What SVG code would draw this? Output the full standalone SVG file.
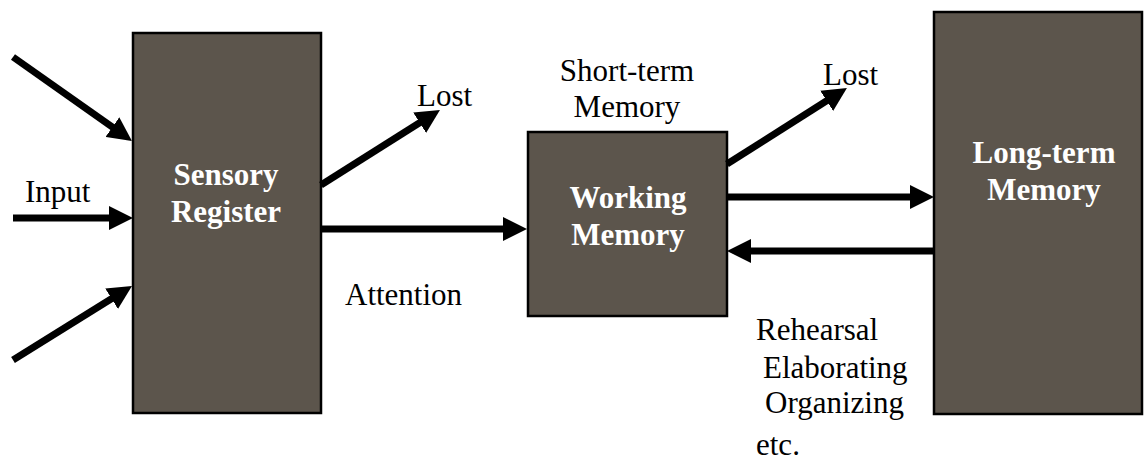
<svg xmlns="http://www.w3.org/2000/svg" width="1144" height="463" viewBox="0 0 1144 463">
<style>
.box{fill:#5c554c;stroke:#000;stroke-width:2.5}
.bt{font-family:"Liberation Serif",serif;font-weight:bold;font-size:31px;fill:#fff;text-anchor:middle}
.t{font-family:"Liberation Serif",serif;font-size:31px;fill:#000}
.c{fill:none;stroke:#000;stroke-width:7}
</style>
<defs>
<marker id="ah" markerUnits="userSpaceOnUse" markerWidth="24" markerHeight="24" refX="14" refY="12" orient="auto">
<path d="M0,0 L24,12 L0,24 z" fill="#000"/>
</marker>
</defs>
<rect width="1144" height="463" fill="#fff"/>
<g id="sensory">
<rect class="box" x="133" y="33" width="188" height="380"/>
<text class="bt" x="226" y="185">Sensory</text>
<text class="bt" x="226" y="222">Register</text>
</g>
<g id="working">
<rect class="box" x="528" y="132" width="199" height="184"/>
<text class="bt" x="628" y="208">Working</text>
<text class="bt" x="628" y="245">Memory</text>
</g>
<g id="longterm">
<rect class="box" x="934" y="12" width="208" height="402"/>
<text class="bt" x="1044" y="163">Long-term</text>
<text class="bt" x="1044" y="200">Memory</text>
</g>
<g id="connectors">
<line class="c" x1="13" y1="57" x2="123.8" y2="135.2" marker-end="url(#ah)"/>
<line class="c" x1="13" y1="218" x2="123" y2="218" marker-end="url(#ah)"/>
<line class="c" x1="13" y1="360" x2="123.5" y2="291.3" marker-end="url(#ah)"/>
<line class="c" x1="321" y1="185" x2="431.5" y2="115.3" marker-end="url(#ah)"/>
<line class="c" x1="321" y1="229" x2="517" y2="229" marker-end="url(#ah)"/>
<line class="c" x1="727" y1="164" x2="838.5" y2="93.3" marker-end="url(#ah)"/>
<line class="c" x1="727" y1="197" x2="924" y2="197" marker-end="url(#ah)"/>
<line class="c" x1="934" y1="251" x2="737" y2="251" marker-end="url(#ah)"/>
</g>
<g id="labels">
<text class="t" x="25" y="202">Input</text>
<text class="t" x="417" y="106">Lost</text>
<text class="t" x="345" y="305">Attention</text>
<text class="t" x="627" y="81" text-anchor="middle">Short-term</text>
<text class="t" x="627" y="117" text-anchor="middle">Memory</text>
<text class="t" x="823" y="85">Lost</text>
<text class="t" x="756" y="340">Rehearsal</text>
<text class="t" x="763" y="378">Elaborating</text>
<text class="t" x="765" y="413">Organizing</text>
<text class="t" x="756" y="455">etc.</text>
</g>
</svg>
